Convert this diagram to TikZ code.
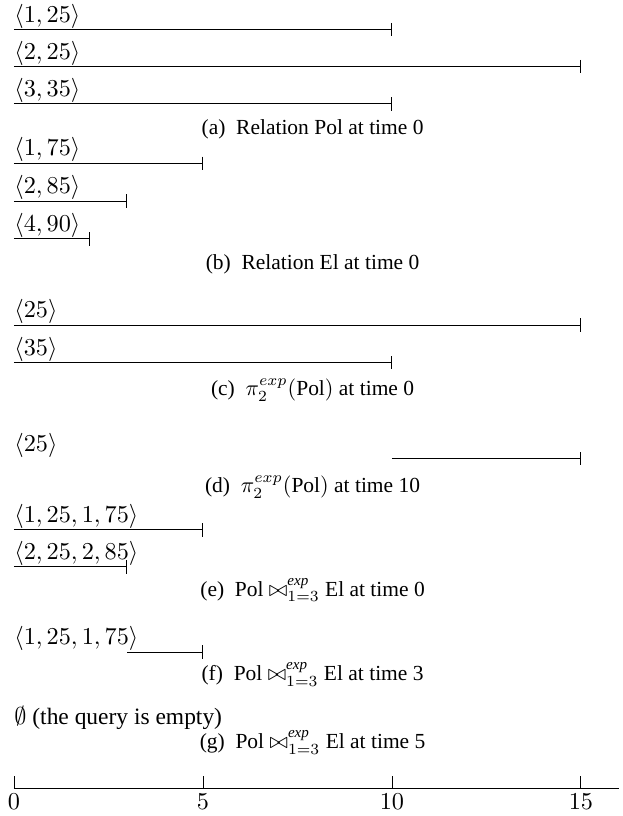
\documentclass[tikz,border=0pt]{standalone}
\usepackage{amsmath}
\usepackage{fontspec}
\setmainfont{Liberation Serif}
\usetikzlibrary{arrows.meta}

\begin{document}
\begin{tikzpicture}[x=0.6cm, y=0.6cm, font=\fontsize{10.6}{12.7}\selectfont,
        tuple/.style={anchor=south west, inner xsep=0pt, inner ysep=0.4pt},
        life/.style={-{Bar[width=6pt]}},
        capt/.style={anchor=base, inner sep=0pt, font=\fontsize{9.7}{11.6}\selectfont}]
    % --- SETTINGS ---
    \def\capX{7.9}
    \def\axisY{-20.85}
    \useasboundingbox (-0.37, 0) rectangle (16.11, -21.59);

    % =========================================
    % (a) RELATION Pol AT TIME 0
    % =========================================
    \foreach \tup/\y/\e [count=\i] in {{1, 25}/-0.78/10, {2, 25}/-1.76/15, {3, 35}/-2.75/10} {
        \node[tuple] (pol\i) at (0, \y) {$\langle \tup\rangle$};
        \draw[life] (0, \y) -- (\e, \y);
    }
    \node[capt] (capA) at (\capX, -3.57) {(a)\enspace Relation Pol at time 0};

    % =========================================
    % (b) RELATION El AT TIME 0
    % =========================================
    \foreach \tup/\y/\e [count=\i] in {{1, 75}/-4.32/5, {2, 85}/-5.32/3, {4, 90}/-6.32/2} {
        \node[tuple] (el\i) at (0, \y) {$\langle \tup\rangle$};
        \draw[life] (0, \y) -- (\e, \y);
    }
    \node[capt] (capB) at (\capX, -7.14) {(b)\enspace Relation El at time 0};

    % =========================================
    % (c) PROJECTION AT TIME 0
    % =========================================
    \node[tuple] (proj1) at (0, -8.6) {$\langle 25\rangle$};
    \draw[life] (0, -8.6) -- (15, -8.6);
    \node[tuple] (proj2) at (0, -9.6) {$\langle 35\rangle$};
    \draw[life] (0, -9.6) -- (10, -9.6);
    \node[capt] (capC) at (\capX, -10.47) {(c)\enspace $\pi_2^{exp}(\mbox{Pol})$ at time 0};

    % =========================================
    % (d) PROJECTION AT TIME 10
    % =========================================
    \node[tuple] (projT) at (0, -12.14) {$\langle 25\rangle$};
    \draw[life] (10, -12.14) -- (15, -12.14);
    \node[capt] (capD) at (\capX, -13.04) {(d)\enspace $\pi_2^{exp}(\mbox{Pol})$ at time 10};

    % =========================================
    % (e) JOIN AT TIME 0
    % =========================================
    \node[tuple] (join1) at (0, -14.02) {$\langle 1, 25, 1, 75\rangle$};
    \draw[life] (0, -14.02) -- (5, -14.02);
    \node[tuple] (join2) at (0, -15.0) {$\langle 2, 25, 2, 85\rangle$};
    \draw[life] (0, -15.0) -- (3, -15.0);
    \node[capt] (capE) at (\capX, -15.77) {(e)\enspace Pol $\bowtie_{1=3}^{\textit{exp}}$ El at time 0};

    % =========================================
    % (f) JOIN AT TIME 3
    % =========================================
    \node[tuple] (joinT) at (0, -17.25) {$\langle 1, 25, 1, 75\rangle$};
    \draw[life] (3, -17.25) -- (5, -17.25);
    \node[capt] (capF) at (\capX, -18.0) {(f)\enspace Pol $\bowtie_{1=3}^{\textit{exp}}$ El at time 3};

    % =========================================
    % (g) JOIN AT TIME 5
    % =========================================
    \node[anchor=base west, inner sep=0pt] (empty) at (0, -19.18) {$\emptyset$ (the query is empty)};
    \node[capt] (capG) at (\capX, -19.8) {(g)\enspace Pol $\bowtie_{1=3}^{\textit{exp}}$ El at time 5};

    % Time Axis
    \draw (0, \axisY) -- (16, \axisY);
    \foreach \t in {0, 5, 10, 15} {
        \draw (\t, \axisY) -- (\t, \axisY + 0.32);
        \node[anchor=north, inner sep=2.5pt] (tick\t) at (\t, \axisY) {$\t$};
    }
\end{tikzpicture}
\end{document}
